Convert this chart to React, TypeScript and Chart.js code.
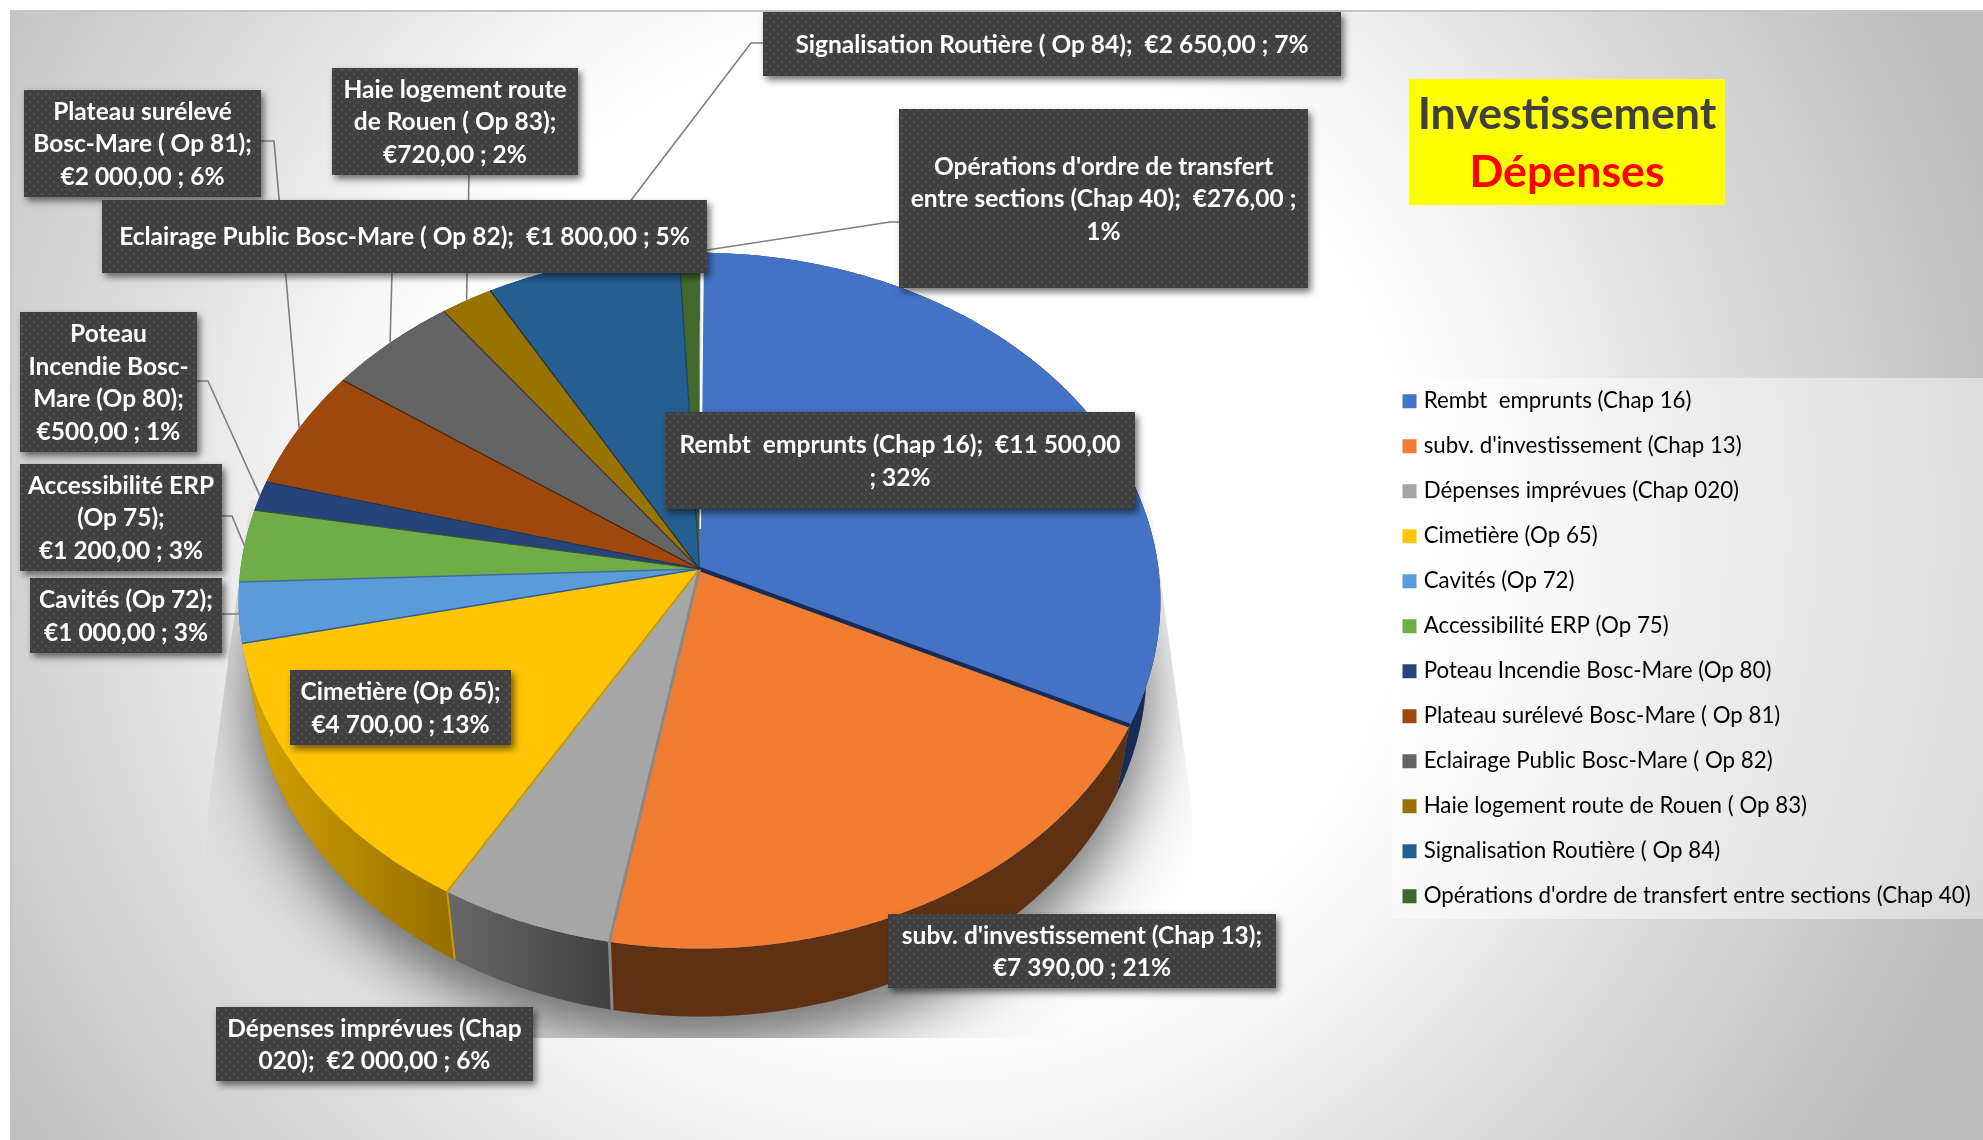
import React, { useEffect, useRef } from "react";
import { Chart, registerables } from "chart.js";

Chart.register(...registerables);

const categories = [
  "Rembt  emprunts (Chap 16)",
  "subv. d'investissement (Chap 13)",
  "Dépenses imprévues (Chap 020)",
  "Cimetière (Op 65)",
  "Cavités (Op 72)",
  "Accessibilité ERP (Op 75)",
  "Poteau Incendie Bosc-Mare (Op 80)",
  "Plateau surélevé Bosc-Mare ( Op 81)",
  "Eclairage Public Bosc-Mare ( Op 82)",
  "Haie logement route de Rouen ( Op 83)",
  "Signalisation Routière ( Op 84)",
  "Opérations d'ordre de transfert entre sections (Chap 40)",
];
const amounts = [11500, 7390, 2000, 4700, 1000, 1200, 500, 2000, 1800, 720, 2650, 276];
const sliceColors = ["#4472C4", "#F07D31", "#A6A6A6", "#FFC505", "#5B9BD9", "#70AD47", "#264478", "#9E480E", "#636363", "#997300", "#255E91", "#43682B"];
const wallColors = [
  ["#172C54", "#172C54"], ["#5F3114", "#5F3114"], ["#686868", "#404040"], ["#D6A400", "#967000"],
  ["#3F6F9F", "#3F6F9F"], ["#4E7A30", "#4E7A30"], ["#1A2F54", "#1A2F54"], ["#6E3209", "#6E3209"],
  ["#454545", "#454545"], ["#6B5000", "#6B5000"], ["#1A4266", "#1A4266"], ["#2F491E", "#2F491E"],
];
const edgeColors = ["#172C54", "#8A8A8A", "#C99A00", "#2F6090", "#3F6F9F", "#3A5A28", "#1A2F54", "#4A2207", "#3A3A3A", "#1F2F30", "#1A4266", "#FFFFFF"];
const edgeWidths = [4, 3, 2, 1.5, 1.5, 1, 1, 1.2, 1.2, 1.2, 1.2, 0];

const dataLabelLines = [
  ["Rembt  emprunts (Chap 16);  €11 500,00", "; 32%"],
  ["subv. d'investissement (Chap 13);", "€7 390,00 ; 21%"],
  ["Dépenses imprévues (Chap", "020);  €2 000,00 ; 6%"],
  ["Cimetière (Op 65);", "€4 700,00 ; 13%"],
  ["Cavités (Op 72);", "€1 000,00 ; 3%"],
  ["Accessibilité ERP", "(Op 75);", "€1 200,00 ; 3%"],
  ["Poteau", "Incendie Bosc-", "Mare (Op 80);", "€500,00 ; 1%"],
  ["Plateau surélevé", "Bosc-Mare ( Op 81);", "€2 000,00 ; 6%"],
  ["Eclairage Public Bosc-Mare ( Op 82);  €1 800,00 ; 5%"],
  ["Haie logement route", "de Rouen ( Op 83);", "€720,00 ; 2%"],
  ["Signalisation Routière ( Op 84);  €2 650,00 ; 7%"],
  ["Opérations d'ordre de transfert", "entre sections (Chap 40);  €276,00 ;", "1%"],
];
const titleLines = ["Investissement", "Dépenses"];

// left, top, right, bottom of each data-label box
const labelBoxes = [
  [665, 412, 1135, 509], [888, 914, 1276, 988], [216, 1007, 533, 1081], [290, 670, 511, 745],
  [30, 578, 222, 653], [20, 464, 222, 571], [20, 312, 197, 452], [24, 90, 261, 197],
  [102, 200, 707, 273], [332, 68, 578, 175], [763, 12, 1341, 76], [899, 109, 1308, 288],
];
// elbow points of the leader lines (they finish on the slice's rim)
const leaderElbows: Record<number, number[][]> = {
  4: [[222, 614], [238, 614]],
  5: [[222, 516], [232, 516]],
  6: [[197, 381], [208, 381]],
  7: [[261, 141], [274, 141]],
  8: [[392, 273]],
  9: [[469, 175]],
  10: [[763, 43], [751, 43]],
  11: [[899, 222], [890, 222]],
};

const W = 1983, H = 1140;
const CX = 699.5, CY = 569, RX = 459, KY = 345, PERSP = 0.0909;
const DEPTH = 68, BOTTOM_SCALE = 0.97;
const LABEL_FONT = "bold 24.5px Lato";
const LEGEND_FONT_SIZE = 22.3;

function rim(theta: number, bottom = false) {
  const s = Math.sin(theta), y = -Math.cos(theta), w = 1 - PERSP * y;
  const sx = bottom ? BOTTOM_SCALE : 1;
  return { x: CX + (RX * s * sx) / w, y: CY + (KY * y) / w + (bottom ? DEPTH : 0) };
}
function rimPath(ctx: CanvasRenderingContext2D, a: number, b: number, bottom = false, move = false) {
  const n = Math.max(2, Math.ceil(Math.abs(b - a) / 0.01));
  for (let i = 0; i <= n; i++) {
    const p = rim(a + ((b - a) * i) / n, bottom);
    if (i === 0 && move) ctx.moveTo(p.x, p.y);
    else ctx.lineTo(p.x, p.y);
  }
}
function anglesOf(chart: any) {
  return chart.getDatasetMeta(0).data.map((arc: any) => ({
    a: arc.startAngle + Math.PI / 2,
    b: arc.endAngle + Math.PI / 2,
  }));
}

const piePlugin = {
  id: "perspectivePie",
  afterLayout(chart: any) {
    const l = chart.legend;
    const pad = l.options.labels.padding;
    const w = l.width, h = l.height;
    l.left = 1406.5 - pad;
    l.right = l.left + w;
    l.top = 390 - pad;
    l.bottom = l.top + h;
  },
  beforeDraw(chart: any) {
    const ctx: CanvasRenderingContext2D = chart.ctx;
    ctx.save();
    ctx.fillStyle = "#FFFFFF";
    ctx.fillRect(0, 0, W, H);
    const g = ctx.createRadialGradient(920, 520, 0, 920, 520, 1120);
    g.addColorStop(0, "#FFFFFF");
    g.addColorStop(0.43, "#FFFFFF");
    g.addColorStop(0.54, "#F6F6F6");
    g.addColorStop(0.71, "#DEDEDE");
    g.addColorStop(0.82, "#D2D2D2");
    g.addColorStop(1, "#BCBCBC");
    ctx.fillStyle = g;
    ctx.fillRect(10, 10, W - 10, H - 10);
    ctx.fillStyle = "#C4C4C4";
    ctx.fillRect(10, 10, W - 10, 2);
    ctx.fillRect(10, 10, 2, H - 10);
    ctx.fillStyle = "rgba(255,255,255,0.45)";
    ctx.fillRect(1392, 378, W - 1392, 541);
    ctx.restore();
  },
  beforeDatasetDraw() {
    return false;
  },
  afterDatasetsDraw(chart: any) {
    const ctx: CanvasRenderingContext2D = chart.ctx;
    const arcs = anglesOf(chart);
    ctx.save();

    // cast shadow, cut by its plate
    ctx.save();
    ctx.beginPath();
    ctx.moveTo(250, 500);
    ctx.lineTo(1150, 500);
    ctx.lineTo(1192, 810);
    ctx.lineTo(1192, 1038);
    ctx.lineTo(200, 1038);
    ctx.lineTo(208, 810);
    ctx.closePath();
    ctx.clip();
    ctx.fillStyle = "#888";
    [[90, 30, 0.4], [45, 22, 0.3]].forEach(([blur, off, alpha]) => {
      ctx.shadowColor = `rgba(0,0,0,${alpha})`;
      ctx.shadowBlur = blur;
      ctx.shadowOffsetY = off;
      ctx.beginPath();
      rimPath(ctx, 0, Math.PI * 2, true, true);
      ctx.closePath();
      ctx.fill();
    });
    ctx.restore();

    // side walls, far ones first
    const order = arcs
      .map((r: any, i: number) => ({ i, y: rim((r.a + r.b) / 2).y }))
      .sort((p: any, q: any) => p.y - q.y);
    for (const { i } of order) {
      const { a, b } = arcs[i];
      const pa = rim(a), pb = rim(b);
      const g = ctx.createLinearGradient(Math.min(pa.x, pb.x), 0, Math.max(pa.x, pb.x) + 1, 0);
      g.addColorStop(0, wallColors[i][0]);
      g.addColorStop(1, wallColors[i][1]);
      ctx.fillStyle = g;
      ctx.beginPath();
      rimPath(ctx, a, b, false, true);
      rimPath(ctx, b, a, true);
      ctx.closePath();
      ctx.fill();
    }
    // wall seams
    arcs.forEach((r: any, i: number) => {
      const t = rim(r.b), d = rim(r.b, true);
      if (i === 1 || i === 2) {
        ctx.strokeStyle = edgeColors[i];
        ctx.lineWidth = edgeWidths[i];
        ctx.beginPath();
        ctx.moveTo(t.x, t.y);
        ctx.lineTo(d.x, d.y);
        ctx.stroke();
      }
    });

    // top faces
    arcs.forEach((r: any, i: number) => {
      ctx.fillStyle = sliceColors[i];
      ctx.beginPath();
      ctx.moveTo(CX, CY);
      rimPath(ctx, r.a, r.b);
      ctx.closePath();
      ctx.fill();
    });
    // slice separations
    arcs.forEach((r: any, i: number) => {
      if (!edgeWidths[i]) return;
      const e = rim(r.b);
      ctx.strokeStyle = edgeColors[i];
      ctx.lineWidth = edgeWidths[i];
      ctx.beginPath();
      ctx.moveTo(CX, CY);
      ctx.lineTo(e.x, e.y);
      ctx.stroke();
    });
    // the pale gap at twelve o'clock
    const top = rim(arcs[0].a);
    ctx.fillStyle = edgeColors[11];
    ctx.beginPath();
    ctx.moveTo(CX, CY - 40);
    ctx.lineTo(CX + 1.5, CY - 40);
    ctx.lineTo(top.x + 4.5, top.y - 2);
    ctx.lineTo(top.x + 1, top.y - 2);
    ctx.closePath();
    ctx.fill();

    // leader lines
    ctx.strokeStyle = "#7F7F7F";
    ctx.lineWidth = 1.6;
    Object.keys(leaderElbows).forEach((key) => {
      const i = Number(key);
      const pts = leaderElbows[i];
      const end = rim((arcs[i].a + arcs[i].b) / 2);
      ctx.beginPath();
      ctx.moveTo(pts[0][0], pts[0][1]);
      pts.slice(1).forEach((p) => ctx.lineTo(p[0], p[1]));
      ctx.lineTo(end.x, end.y);
      ctx.stroke();
    });

    // data-label boxes
    const dot = document.createElement("canvas");
    dot.width = 8;
    dot.height = 8;
    const d = dot.getContext("2d")!;
    d.fillStyle = "#404040";
    d.fillRect(0, 0, 8, 8);
    d.fillStyle = "#525252";
    d.fillRect(1, 1, 2, 2);
    d.fillRect(5, 5, 2, 2);
    const pattern = ctx.createPattern(dot, "repeat")!;
    labelBoxes.forEach((box, i) => {
      const [l, t, rr, bb] = box;
      ctx.save();
      ctx.shadowColor = "rgba(0,0,0,0.55)";
      ctx.shadowBlur = 7;
      ctx.shadowOffsetX = 3;
      ctx.shadowOffsetY = 4;
      ctx.fillStyle = "#404040";
      ctx.fillRect(l, t, rr - l, bb - t);
      ctx.restore();
      ctx.fillStyle = pattern;
      ctx.fillRect(l, t, rr - l, bb - t);
      ctx.fillStyle = "#FFFFFF";
      ctx.font = LABEL_FONT;
      ctx.textAlign = "center";
      ctx.textBaseline = "middle";
      const lines = dataLabelLines[i];
      const pitch = 32.6;
      const y0 = (t + bb) / 2 + 1 - ((lines.length - 1) * pitch) / 2;
      lines.forEach((s, k) => ctx.fillText(s, (l + rr) / 2, y0 + k * pitch));
    });

    // title
    ctx.fillStyle = "#FFFF00";
    ctx.fillRect(1409, 79, 316, 126);
    ctx.textAlign = "center";
    ctx.textBaseline = "middle";
    ctx.font = "bold 44.7px Lato";
    ctx.fillStyle = "#404040";
    ctx.fillText(titleLines[0], 1567, 115);
    ctx.fillStyle = "#FF0000";
    ctx.fillText(titleLines[1], 1567, 173);
    ctx.restore();
  },
};

export default function App() {
  const ref = useRef<HTMLCanvasElement>(null);
  useEffect(() => {
    const chart = new Chart(ref.current!, {
      type: "pie",
      data: {
        labels: categories,
        datasets: [{ data: amounts, backgroundColor: sliceColors, borderWidth: 0 }],
      },
      options: {
        responsive: false,
        animation: false,
        events: [],
        layout: { padding: 0 },
        plugins: {
          tooltip: { enabled: false },
          legend: {
            display: true,
            position: "right",
            align: "start",
            labels: {
              boxWidth: 6,
              boxHeight: 6,
              padding: 22.7,
              color: "#5E5E5E",
              font: { family: "Lato", size: LEGEND_FONT_SIZE },
              generateLabels: (c: any) =>
                c.data.labels.map((t: string, i: number) => ({
                  text: t,
                  fillStyle: sliceColors[i],
                  strokeStyle: sliceColors[i],
                  lineWidth: 8,
                  hidden: false,
                  index: i,
                })),
            },
          },
        },
      },
      plugins: [piePlugin],
    } as any);
    return () => chart.destroy();
  }, []);
  return (
    <div style={{ position: "absolute", left: 0, top: 0, width: W, height: H, overflow: "hidden" }}>
      <canvas ref={ref} width={W} height={H} style={{ display: "block" }} />
    </div>
  );
}
